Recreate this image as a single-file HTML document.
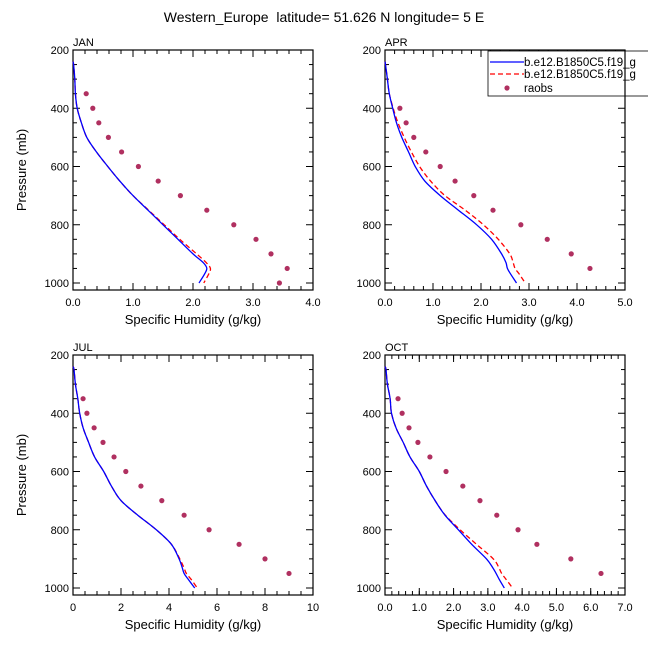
<!DOCTYPE html>
<html><head><meta charset="utf-8"><style>
body{margin:0;background:#fff}
svg{display:block;font-family:"Liberation Sans",Arial,sans-serif}
</style></head><body>
<svg id="chart" width="648" height="648" viewBox="0 0 648 648">
<text x="324" y="22" text-anchor="middle" font-size="14">Western_Europe&#160; latitude= 51.626 N longitude= 5 E</text>
</svg>
<script>
// Data
const panelNames = ["JAN","APR","JUL","OCT"];
const xMaxes = [4, 5, 10, 7];
const xTickLabelsJAN = ["0.0","1.0","2.0","3.0","4.0"];
const xTickLabelsAPR = ["0.0","1.0","2.0","3.0","4.0","5.0"];
const xTickLabelsJUL = ["0","2","4","6","8","10"];
const xTickLabelsOCT = ["0.0","1.0","2.0","3.0","4.0","5.0","6.0","7.0"];
const yTicks = [200,400,600,800,1000];
const modelP = [240,250,300,350,400,450,500,550,600,650,700,750,800,850,900,930,950,970,1000];
const janBlue = [0,0.01,0.03,0.04,0.07,0.14,0.23,0.39,0.58,0.78,1.0,1.25,1.5,1.75,2.0,2.17,2.23,2.19,2.1];
const janRed  = [0,0.01,0.03,0.04,0.07,0.14,0.23,0.39,0.58,0.78,1.0,1.26,1.52,1.78,2.06,2.22,2.29,2.26,2.18];
const aprBlue = [0,0.01,0.05,0.09,0.16,0.24,0.35,0.49,0.63,0.83,1.15,1.53,1.91,2.22,2.43,2.52,2.55,2.62,2.74];
const aprRed  = [0,0.01,0.05,0.09,0.17,0.27,0.4,0.55,0.72,0.95,1.25,1.67,2.05,2.36,2.6,2.67,2.71,2.8,2.92];
const julBlue = [0,0.04,0.1,0.2,0.28,0.42,0.65,0.9,1.28,1.6,2.0,2.7,3.47,4.1,4.42,4.55,4.63,4.8,5.07];
const julRed  = [0,0.04,0.1,0.2,0.28,0.42,0.65,0.9,1.28,1.6,2.0,2.7,3.47,4.1,4.45,4.62,4.72,4.92,5.18];
const octBlue = [0,0.03,0.07,0.15,0.19,0.32,0.53,0.73,1.0,1.21,1.46,1.75,2.14,2.53,2.96,3.14,3.24,3.33,3.48];
const octRed  = [0,0.03,0.07,0.15,0.19,0.32,0.53,0.73,1.0,1.21,1.46,1.76,2.19,2.67,3.16,3.32,3.4,3.53,3.72];
const obsP = [350,400,450,500,550,600,650,700,750,800,850,900,950,1000];
const janObs = [0.22,0.33,0.43,0.59,0.81,1.09,1.42,1.79,2.23,2.68,3.05,3.3,3.57,3.44];
const aprObs = [null,0.31,0.44,0.6,0.85,1.15,1.46,1.85,2.25,2.83,3.38,3.88,4.27,null];
const julObs = [0.42,0.58,0.88,1.25,1.71,2.2,2.83,3.7,4.63,5.67,6.92,8.0,9.0,null];
const octObs = [0.38,0.5,0.7,0.96,1.31,1.78,2.27,2.77,3.26,3.88,4.43,5.42,6.3,null];

const NS="http://www.w3.org/2000/svg";
const svg=document.getElementById('chart');
function el(t,a,p){const e=document.createElementNS(NS,t);for(const k in a)e.setAttribute(k,a[k]);(p||svg).appendChild(e);return e;}
function smooth(pts){
  let d='M'+pts[0][0].toFixed(1)+','+pts[0][1].toFixed(1);
  for(let i=0;i<pts.length-1;i++){
    const p0=pts[i-1]||pts[i],p1=pts[i],p2=pts[i+1],p3=pts[i+2]||p2;
    const c1=[p1[0]+(p2[0]-p0[0])/6,p1[1]+(p2[1]-p0[1])/6];
    const c2=[p2[0]-(p3[0]-p1[0])/6,p2[1]-(p3[1]-p1[1])/6];
    d+=' C'+c1.map(v=>v.toFixed(1)).join(',')+' '+c2.map(v=>v.toFixed(1)).join(',')+' '+p2.map(v=>v.toFixed(1)).join(',');
  }
  return d;
}

const panels=[
 {x0:73,y0:50,labels:xTickLabelsJAN,minor:0.2,blue:janBlue,red:janRed,obs:janObs,ylab:true},
 {x0:385,y0:50,labels:xTickLabelsAPR,minor:0.2,blue:aprBlue,red:aprRed,obs:aprObs,ylab:false},
 {x0:73,y0:355,labels:xTickLabelsJUL,minor:0.5,blue:julBlue,red:julRed,obs:julObs,ylab:true},
 {x0:385,y0:355,labels:xTickLabelsOCT,minor:0.2,blue:octBlue,red:octRed,obs:octObs,ylab:false}
];
const W=240, pxPerMb=233/800, H=240;
panels.forEach((P,i)=>{
  const xmax=xMaxes[i];
  const g=el('g',{});
  
  
  const xs=v=>P.x0+v/xmax*W;
  const ys=p=>P.y0+(p-200)*pxPerMb;
  const nMin=Math.round(xmax/P.minor);
  for(let k=0;k<=nMin;k++){const v=k*P.minor,x=xs(v);
    el('line',{x1:x,x2:x,y1:P.y0,y2:P.y0+4,stroke:'#000','stroke-width':1},g);
    el('line',{x1:x,x2:x,y1:P.y0+H,y2:P.y0+H-4,stroke:'#000','stroke-width':1},g);}
  const nMaj=P.labels.length-1;
  P.labels.forEach((lab,k)=>{const x=xs(k*xmax/nMaj);
    el('line',{x1:x,x2:x,y1:P.y0,y2:P.y0+7,stroke:'#000','stroke-width':1},g);
    el('line',{x1:x,x2:x,y1:P.y0+H,y2:P.y0+H-7,stroke:'#000','stroke-width':1},g);
    const t=el('text',{x:x,y:P.y0+H+16,'text-anchor':'middle','font-size':11},g);t.textContent=lab;
    
    });
  for(let p=200;p<=1000;p+=50){const y=ys(p),L=(p%200===0)?7:4;
    el('line',{x1:P.x0,x2:P.x0+L,y1:y,y2:y,stroke:'#000','stroke-width':1},g);
    el('line',{x1:P.x0+W,x2:P.x0+W-L,y1:y,y2:y,stroke:'#000','stroke-width':1},g);}
  yTicks.forEach(p=>{const t=el('text',{x:P.x0-4,y:ys(p)+4,'text-anchor':'end','font-size':11},g);t.textContent=p;
    
    });
  el('rect',{x:P.x0,y:P.y0,width:W,height:H,fill:'none',stroke:'#000','stroke-width':1.2},g);
  const tt=el('text',{x:P.x0,y:P.y0-4,'font-size':11},g);tt.textContent=panelNames[i];
  
  
  const xt=el('text',{x:P.x0+W/2,y:P.y0+H+34,'text-anchor':'middle','font-size':13},g);xt.textContent='Specific Humidity (g/kg)';
  
  
  if(P.ylab){const yt=el('text',{x:0,y:0,'text-anchor':'middle','font-size':13,transform:`translate(${P.x0-47},${P.y0+H/2}) rotate(-90)`},g);yt.textContent='Pressure (mb)';
    
    }
  const pts=arr=>arr.map((v,k)=>[xs(v),ys(modelP[k])]);
  const r=el('path',{d:smooth(pts(P.red)),fill:'none',stroke:'#f00','stroke-width':1.3,'stroke-dasharray':'5,3'},g);
  
  
  const b=el('path',{d:smooth(pts(P.blue)),fill:'none',stroke:'#00f','stroke-width':1.3},g);
  
  
  P.obs.forEach((v,k)=>{if(v===null)return;
    const c=el('circle',{cx:xs(v),cy:ys(obsP[k]),r:2.6,fill:'#b03060'},g);
    
    });
});
const lg=el('g',{});


el('rect',{x:488,y:51,width:170,height:45,fill:'#fff',stroke:'#000','stroke-width':0.8},lg);
el('line',{x1:490,x2:524,y1:62,y2:62,stroke:'#00f','stroke-width':1.3},lg);
el('line',{x1:490,x2:524,y1:74,y2:74,stroke:'#f00','stroke-width':1.3,'stroke-dasharray':'5,3'},lg);
el('circle',{cx:507,cy:88,r:2.6,fill:'#b03060'},lg);
[['b.e12.B1850C5.f19_g',66],['b.e12.B1850C5.f19_g',78],['raobs',92]].forEach(([s,y])=>{
  const t=el('text',{x:524,y:y,'font-size':11.5},lg);t.textContent=s;
  
  });
el('line',{x1:625,x2:625,y1:50,y2:96,stroke:'#000','stroke-width':1.2},lg);
</script>
</body></html>
